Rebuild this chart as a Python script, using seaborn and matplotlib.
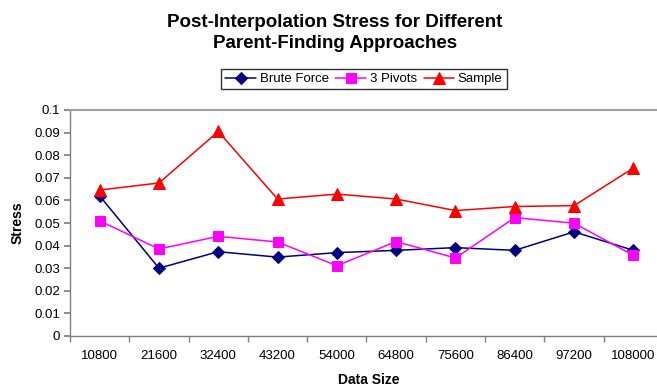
import matplotlib
matplotlib.use("Agg")
import matplotlib.pyplot as plt
import seaborn as sns
import pandas as pd

sns.set_theme(style="white")
plt.rcParams["font.family"] = ["Liberation Sans", "DejaVu Sans"]
plt.rcParams.update({"text.color": "black", "axes.labelcolor": "black",
                     "xtick.color": "black", "ytick.color": "black"})

data_sizes = ["10800", "21600", "32400", "43200", "54000",
              "64800", "75600", "86400", "97200", "108000"]
brute_force = [0.062, 0.030, 0.0373, 0.0349, 0.0369,
               0.0379, 0.0391, 0.0379, 0.0461, 0.0379]
three_pivots = [0.0510, 0.0385, 0.0441, 0.0416, 0.0311,
                0.0418, 0.0345, 0.0524, 0.0499, 0.0357]
sample = [0.0646, 0.0677, 0.0905, 0.0606, 0.0628,
          0.0606, 0.0555, 0.0573, 0.0577, 0.0743]

series_names = ["Brute Force", "3 Pivots", "Sample"]
colors = ["#000080", "#FF00FF", "#FF0000"]
markers = ["D", "s", "^"]
marker_sizes = [6.5, 7, 8.5]

df = pd.DataFrame({
    "Data Size": data_sizes * 3,
    "Stress": brute_force + three_pivots + sample,
    "Approach": sum([[n] * len(data_sizes) for n in series_names], []),
})
df["pos"] = df["Data Size"].map({s: i for i, s in enumerate(data_sizes)})

fig = plt.figure(figsize=(6.57, 3.89), dpi=100)
W, H = 657, 389
ax = fig.add_axes([70 / W, 1 - 336 / H, 593 / W, (336 - 110) / H])

for name, c, m, ms in zip(series_names, colors, markers, marker_sizes):
    sub = df[df["Approach"] == name]
    sns.lineplot(data=sub, x="pos", y="Stress", ax=ax, color=c, marker=m,
                 markersize=ms, markeredgecolor=c, linewidth=1.1,
                 label=name, legend=False)

ax.set_xlim(-0.5, 9.5)
ax.set_ylim(0, 0.1)
ax.set_yticks([i / 100 for i in range(11)])
ax.set_yticklabels(["0"] + [f"{i / 100:g}" for i in range(1, 11)])
ax.set_xticks(range(10))
ax.set_xticklabels(data_sizes)
ax.set_xticks([i - 0.5 for i in range(11)], minor=True)
ax.tick_params(axis="x", which="major", length=0, pad=10, labelsize=9.5)
ax.tick_params(axis="x", which="minor", length=4, color="#808080", direction="out")
ax.tick_params(axis="y", length=4, color="#808080", direction="out", labelsize=9.5, pad=3)
ax.xaxis.set_ticks_position("bottom")
ax.yaxis.set_ticks_position("left")

for s in ["left", "bottom"]:
    ax.spines[s].set_color("#808080")
    ax.spines[s].set_linewidth(1.0)
ax.spines["top"].set_color("#A0A0A0")
ax.spines["top"].set_linewidth(1.5)
ax.spines["right"].set_visible(False)

ax.set_xlabel("")
ax.set_ylabel("")
fig.text(369 / W, 1 - 380 / H, "Data Size", ha="center", va="center",
         fontsize=10, fontweight="bold")
fig.text(18 / W, 1 - 223 / H, "Stress", ha="center", va="center",
         rotation=90, fontsize=10, fontweight="bold")

fig.text(335 / W, 1 - 33 / H, "Post-Interpolation Stress for Different\nParent-Finding Approaches",
         ha="center", va="center", fontsize=13.5, fontweight="bold", linespacing=1.25)

handles, labels = ax.get_legend_handles_labels()
leg = fig.legend(handles, labels, loc="center", bbox_to_anchor=(364 / W, 1 - 79 / H),
                 ncol=3, fontsize=9.5, frameon=True, fancybox=False,
                 handlelength=2.3, handletextpad=0.3, columnspacing=0.5,
                 borderpad=0.3, edgecolor="black")
leg.get_frame().set_linewidth(1.0)

fig.savefig("out.png", dpi=100)
